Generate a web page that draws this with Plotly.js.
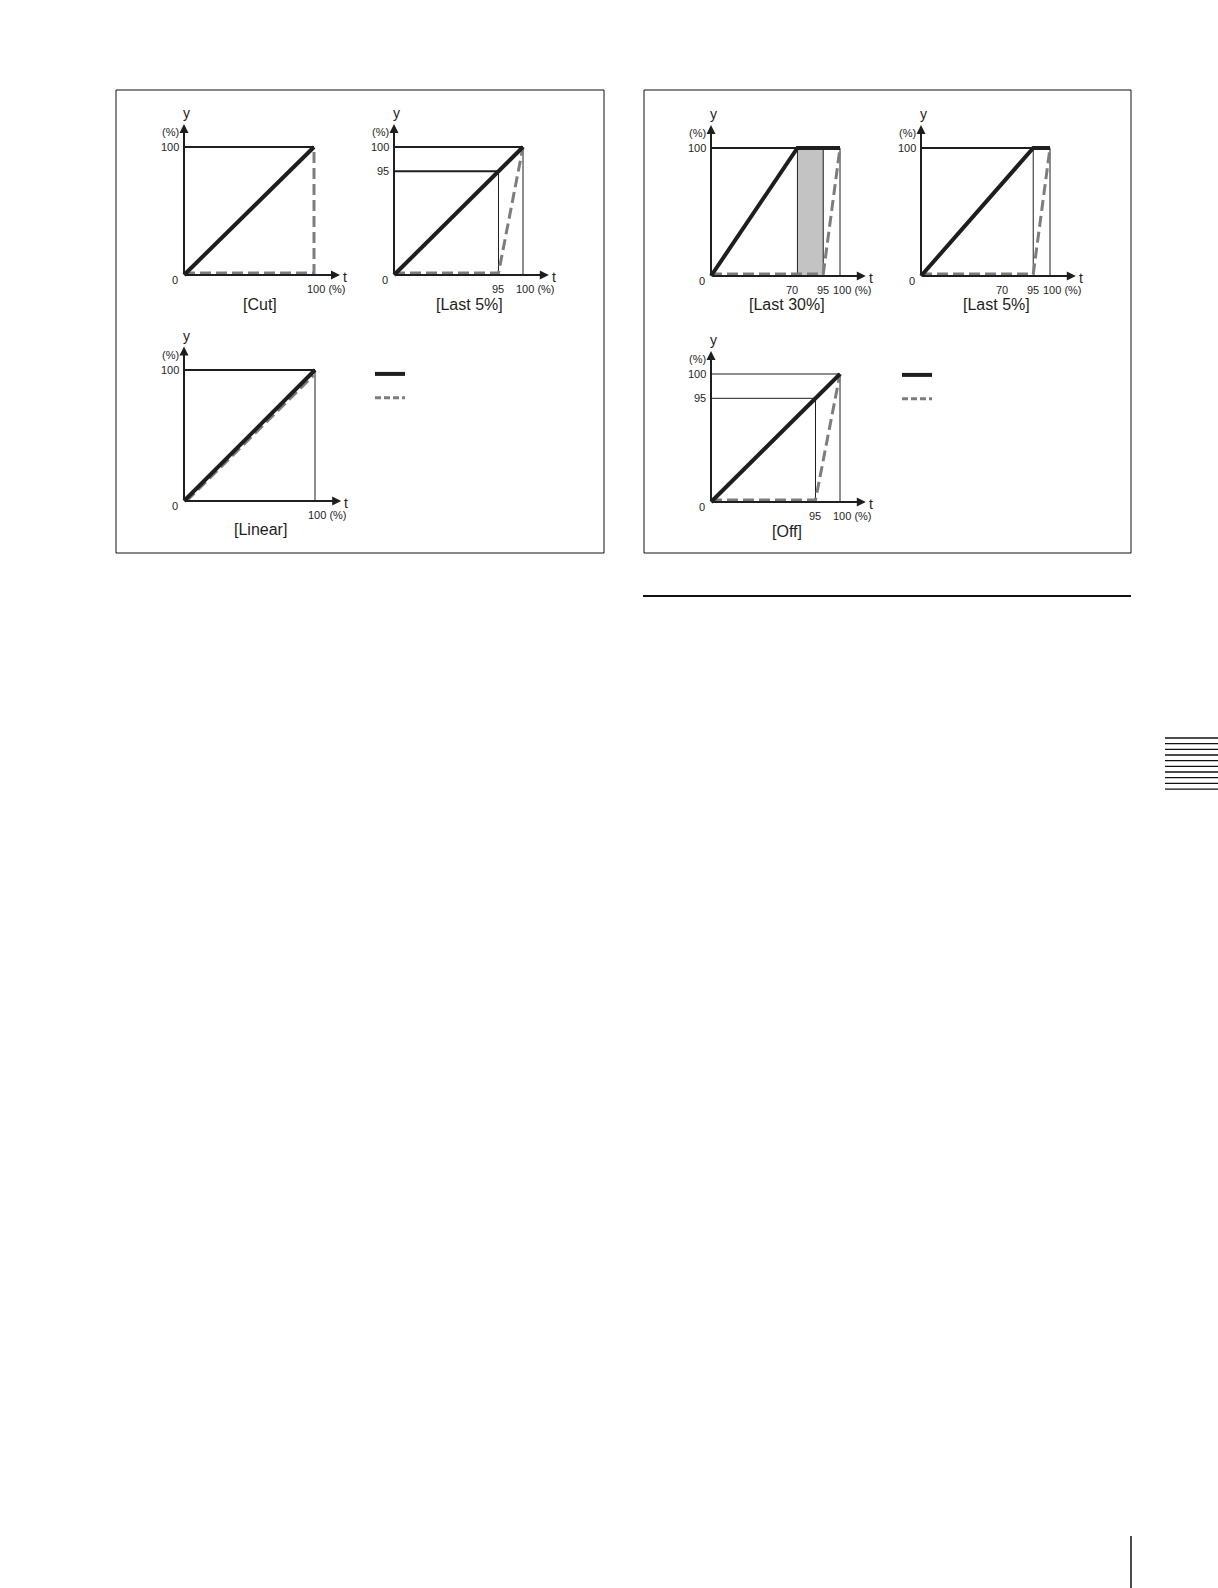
<!DOCTYPE html>
<html>
<head>
<meta charset="utf-8">
<script src="https://cdn.plot.ly/plotly-3.0.1.min.js"></script>
<style>
  html, body { margin: 0; padding: 0; background: #fff; }
  #grafico { width: 1218px; height: 1588px; }
</style>
</head>
<body>
<div id="grafico"></div>
<script>
// t / y on a 0..100 schematic scale. the 95 and 70 marks sit where the
// figure draws them (not to scale), the labels carry the real value

// [Cut]
var cutSolidX = [0, 100], cutSolidY = [0, 100];
var cutDashX = [0, 100, 100], cutDashY = [1.5, 1.5, 100];
var cutMidX = [0, 100], cutMidY = [100, 100];
var cutXTickPos = [100], cutXTickText = ['100 (%)'];
var cutYTickPos = [100], cutYTickText = ['100'];

// [Last 5%] left box
var l5aSolidX = [0, 100], l5aSolidY = [0, 100];
var l5aDashX = [0, 81, 100], l5aDashY = [1.5, 1.5, 100];
var l5aMidX = [0, 100, null, 0, 81], l5aMidY = [100, 100, null, 81, 81];
var l5aThinX = [81, 81, null, 100, 100], l5aThinY = [0, 81, null, 0, 100];
var l5aXTickPos = [81, 100], l5aXTickText = ['95', '100 (%)'];
var l5aYTickPos = [100, 81], l5aYTickText = ['100', '95'];

// [Linear]
var linSolidX = [0, 100], linSolidY = [0, 100];
var linDashX = [2, 99], linDashY = [0, 96];
var linMidX = [0, 100], linMidY = [100, 100];
var linThinX = [100, 100], linThinY = [0, 100];
var linXTickPos = [100], linXTickText = ['100 (%)'];
var linYTickPos = [100], linYTickText = ['100'];

// [Last 30%]
var l30SolidX = [0, 67, 100], l30SolidY = [0, 100, 100];
var l30DashX = [0, 87, 100], l30DashY = [1.5, 1.5, 100];
var l30BandX = [67, 87, 87, 67, 67], l30BandY = [0, 0, 100, 100, 0];
var l30MidX = [0, 100], l30MidY = [100, 100];
var l30ThinX = [100, 100], l30ThinY = [0, 100];
var l30XTickPos = [67, 87, 100], l30XTickText = ['70', '95', '100 (%)'];
var l30YTickPos = [100], l30YTickText = ['100'];

// [Last 5%] right box
var l5bSolidX = [0, 87, 100], l5bSolidY = [0, 100, 100];
var l5bDashX = [0, 87, 100], l5bDashY = [1.5, 1.5, 100];
var l5bMidX = [0, 100], l5bMidY = [100, 100];
var l5bThinX = [87, 87, null, 100, 100], l5bThinY = [0, 100, null, 0, 100];
var l5bXTickPos = [67, 87, 100], l5bXTickText = ['70', '95', '100 (%)'];
var l5bYTickPos = [100], l5bYTickText = ['100'];

// [Off]
var offSolidX = [0, 100], offSolidY = [0, 100];
var offDashX = [0, 81, 100], offDashY = [1.5, 1.5, 100];
var offThinX = [0, 100, null, 0, 81, null, 81, 81, null, 100, 100];
var offThinY = [100, 100, null, 81, 81, null, 0, 81, null, 0, 100];
var offXTickPos = [81, 100], offXTickText = ['95', '100 (%)'];
var offYTickPos = [100, 81], offYTickText = ['100', '95'];

var titles = ['[Cut]', '[Last 5%]', '[Linear]', '[Last 30%]', '[Last 5%]', '[Off]'];

var W = 1218, H = 1588;
var FONT = 'Liberation Sans, Arial, sans-serif';
var INK = '#1e1e1e', GREY = '#7d7d7d';

// where each small plot sits on the page: pixel of t=0 / t=100, y=0 / y=100
var panels = [
  {ox: 184, x100: 314, oy: 275, y100: 147, solid: [cutSolidX, cutSolidY], dash: [cutDashX, cutDashY],
   mid: [cutMidX, cutMidY], thin: null, band: null, xt: [cutXTickPos, cutXTickText], yt: [cutYTickPos, cutYTickText]},
  {ox: 394, x100: 523, oy: 275, y100: 147, solid: [l5aSolidX, l5aSolidY], dash: [l5aDashX, l5aDashY],
   mid: [l5aMidX, l5aMidY], thin: [l5aThinX, l5aThinY], band: null, xt: [l5aXTickPos, l5aXTickText], yt: [l5aYTickPos, l5aYTickText]},
  {ox: 184, x100: 315, oy: 501, y100: 370, solid: [linSolidX, linSolidY], dash: [linDashX, linDashY],
   mid: [linMidX, linMidY], thin: [linThinX, linThinY], band: null, xt: [linXTickPos, linXTickText], yt: [linYTickPos, linYTickText], legend: 'legend'},
  {ox: 711, x100: 840, oy: 276, y100: 148, solid: [l30SolidX, l30SolidY], dash: [l30DashX, l30DashY],
   mid: [l30MidX, l30MidY], thin: [l30ThinX, l30ThinY], band: [l30BandX, l30BandY], xt: [l30XTickPos, l30XTickText], yt: [l30YTickPos, l30YTickText]},
  {ox: 921, x100: 1050, oy: 276, y100: 148, solid: [l5bSolidX, l5bSolidY], dash: [l5bDashX, l5bDashY],
   mid: [l5bMidX, l5bMidY], thin: [l5bThinX, l5bThinY], band: null, xt: [l5bXTickPos, l5bXTickText], yt: [l5bYTickPos, l5bYTickText]},
  {ox: 711, x100: 840, oy: 502, y100: 374, solid: [offSolidX, offSolidY], dash: [offDashX, offDashY],
   mid: null, thin: [offThinX, offThinY], band: null, xt: [offXTickPos, offXTickText], yt: [offYTickPos, offYTickText], legend: 'legend2'}
];

var XLO = -15, XHI = 130, YLO = -25, YHI = 130;

var data = [];
var annotations = [];
var layout = {
  width: W, height: H,
  margin: {l: 0, r: 0, t: 0, b: 0},
  paper_bgcolor: '#fff', plot_bgcolor: 'rgba(0,0,0,0)',
  font: {family: FONT, color: INK},
  showlegend: true,
  legend: {x: 370 / W, y: 1 - 357 / H, xanchor: 'left', yanchor: 'top', bgcolor: 'rgba(0,0,0,0)',
           font: {size: 16, family: FONT}, tracegroupgap: 0},
  legend2: {x: 897 / W, y: 1 - 358 / H, xanchor: 'left', yanchor: 'top', bgcolor: 'rgba(0,0,0,0)',
            font: {size: 16, family: FONT}, tracegroupgap: 0},
  shapes: [],
  annotations: annotations
};

function line(xa, ya, xs, ys, color, width, dash) {
  return {x: xs, y: ys, xaxis: xa, yaxis: ya, type: 'scatter', mode: 'lines', hoverinfo: 'skip',
          showlegend: false, line: {color: color, width: width, dash: dash || 'solid'}};
}

function txt(xa, ya, x, y, text, size, opts) {
  var a = {xref: xa, yref: ya, x: x, y: y, text: text, showarrow: false,
           font: {size: size, family: FONT, color: INK}};
  for (var k in opts) a[k] = opts[k];
  annotations.push(a);
}

panels.forEach(function (p, i) {
  var n = i === 0 ? '' : String(i + 1);
  var xa = 'x' + n, ya = 'y' + n;
  var sx = (p.x100 - p.ox) / 100, sy = (p.oy - p.y100) / 100;

  layout['xaxis' + n] = {domain: [(p.ox + XLO * sx) / W, (p.ox + XHI * sx) / W], range: [XLO, XHI],
                         visible: false, fixedrange: true};
  layout['yaxis' + n] = {domain: [1 - (p.oy - YLO * sy) / H, 1 - (p.oy - YHI * sy) / H], range: [YLO, YHI],
                         visible: false, fixedrange: true};

  if (p.mid) data.push(line(xa, ya, p.mid[0], p.mid[1], INK, 2));
  if (p.thin) data.push(line(xa, ya, p.thin[0], p.thin[1], INK, 1));
  if (p.band) {
    var b = line(xa, ya, p.band[0], p.band[1], INK, 1);
    b.fill = 'toself';
    b.fillcolor = '#c3c3c3';
    data.push(b);
  }
  data.push(line(xa, ya, p.dash[0], p.dash[1], GREY, 3, '11px,5px'));
  data.push(line(xa, ya, p.solid[0], p.solid[1], INK, 4));

  // key swatches (the original has no words next to them); one start point
  // only, so nothing is drawn in the plot itself
  if (p.legend) {
    var s = line(xa, ya, p.solid[0].slice(0, 1), p.solid[1].slice(0, 1), INK, 4);
    s.showlegend = true; s.name = ' '; s.legend = p.legend;
    var d = line(xa, ya, p.dash[0].slice(0, 1), p.dash[1].slice(0, 1), GREY, 3, '6px,3px');
    d.showlegend = true; d.name = ' '; d.legend = p.legend;
    data.push(s, d);
  }

  // axes with arrow heads
  annotations.push({xref: xa, yref: ya, axref: xa, ayref: ya, x: 120, y: 0, ax: 0, ay: 0, text: '',
                    showarrow: true, arrowhead: 2, arrowsize: 0.9, arrowwidth: 2, arrowcolor: INK, standoff: 0});
  annotations.push({xref: xa, yref: ya, axref: xa, ayref: ya, x: 0, y: 118, ax: 0, ay: 0, text: '',
                    showarrow: true, arrowhead: 2, arrowsize: 0.9, arrowwidth: 2, arrowcolor: INK, standoff: 0});

  txt(xa, ya, 0, 100, 'y', 14, {xshift: 2, yshift: 34});
  txt(xa, ya, 0, 100, '(%)', 11, {xshift: -14, yshift: 15});
  txt(xa, ya, 100, 0, 't', 14, {xshift: 31, yshift: -2});
  txt(xa, ya, 0, 0, '0', 11, {xshift: -9, yshift: -5});

  p.yt[0].forEach(function (v, k) {
    txt(xa, ya, 0, v, p.yt[1][k], 11, {xanchor: 'right', xshift: -3});
  });
  p.xt[0].forEach(function (v, k) {
    var label = p.xt[1][k];
    var wide = label.indexOf('(%)') > 0;
    txt(xa, ya, v, 0, label, 11, {xanchor: wide ? 'left' : 'center',
                                  xshift: wide ? -9 : (label === '70' ? -5 : 0), yshift: -14});
  });

  txt(xa, ya, 50, 0, titles[i], 16, {xshift: 11, yshift: -29});
});

// frames and page furniture
function pline(x0, y0, x1, y1, w) {
  layout.shapes.push({type: 'line', xref: 'paper', yref: 'paper', x0: x0 / W, x1: x1 / W,
                      y0: 1 - y0 / H, y1: 1 - y1 / H, line: {color: '#111', width: w}});
}
layout.shapes.push({type: 'rect', xref: 'paper', yref: 'paper', x0: 116 / W, x1: 604 / W,
                    y0: 1 - 553 / H, y1: 1 - 90 / H, line: {color: '#111', width: 1}});
layout.shapes.push({type: 'rect', xref: 'paper', yref: 'paper', x0: 644 / W, x1: 1131 / W,
                    y0: 1 - 553 / H, y1: 1 - 90 / H, line: {color: '#111', width: 1}});
pline(643, 596, 1131, 596, 2);
for (var i = 0; i < 10; i++) {
  var yy = 738 + i * 5.67;
  pline(1165, yy, 1218, yy, 1.3);
}
pline(1131, 1536, 1131, 1588, 1.5);

Plotly.newPlot('grafico', data, layout, {staticPlot: true, displayModeBar: false});
</script>
</body>
</html>
